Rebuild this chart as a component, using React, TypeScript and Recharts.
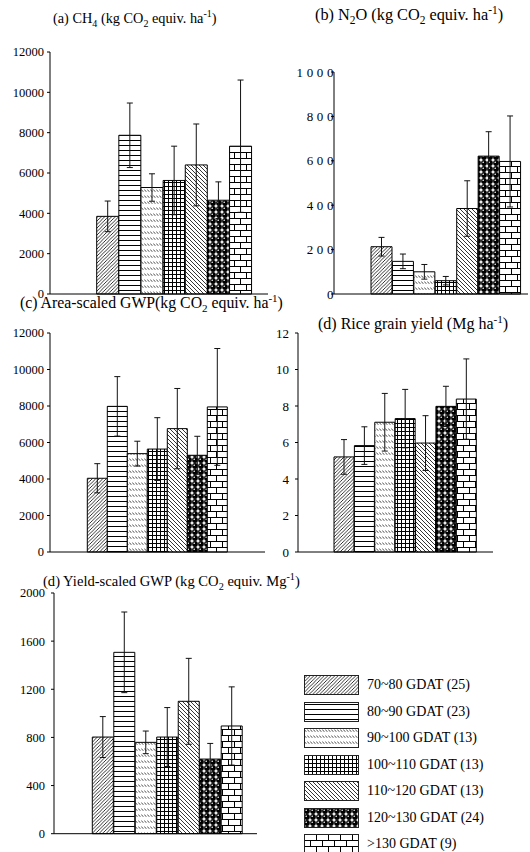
import React from 'react'
import { Bar, BarChart, Cell, ErrorBar, XAxis, YAxis } from 'recharts'

const groups = [
  '70~80 GDAT (25)',
  '80~90 GDAT (23)',
  '90~100 GDAT (13)',
  '100~110 GDAT (13)',
  '110~120 GDAT (13)',
  '120~130 GDAT (24)',
  '>130 GDAT (9)',
]

// (a) CH4
const ch4 = [3850, 7870, 5280, 5630, 6400, 4650, 7330]
const ch4Err = [760, 1600, 680, 1700, 2030, 910, 3280]
// (b) N2O
const n2o = [213, 147, 100, 60, 385, 621, 597]
const n2oErr = [42, 33, 33, 19, 125, 110, 205]
// (c) area-scaled GWP
const gwp = [4040, 7980, 5390, 5640, 6760, 5300, 7950]
const gwpErr = [800, 1630, 680, 1720, 2200, 1040, 3200]
// (d) rice grain yield
const grainYield = [5.21, 5.83, 7.11, 7.31, 5.97, 7.98, 8.38]
const grainYieldErr = [0.95, 1.03, 1.58, 1.6, 1.5, 1.1, 2.2]
// (e) yield-scaled GWP
const yieldGwp = [803, 1507, 759, 803, 1100, 620, 895]
const yieldGwpErr = [170, 335, 94, 245, 357, 130, 325]

const ticksBig = [0, 2000, 4000, 6000, 8000, 10000, 12000]
const ticksN2o = [0, 200, 400, 600, 800, 1000]
const ticksYield = [0, 2, 4, 6, 8, 10, 12]
const ticksYgwp = [0, 400, 800, 1200, 1600, 2000]

const serif = '"Liberation Serif", "Times New Roman", serif'

function Patterns() {
  return (
    <svg width={0} height={0} style={{ position: 'absolute' }}>
      <defs>
        <pattern id="pat0" width={3.5} height={3.5} patternUnits="userSpaceOnUse">
          <rect width={3.5} height={3.5} fill="#fff" />
          <path d="M-1,1 l2,-2 M0,3.5 l3.5,-3.5 M2.5,4.5 l2,-2" stroke="#000" strokeWidth={0.8} />
        </pattern>
        <pattern id="pat1" width={6} height={5} patternUnits="userSpaceOnUse">
          <rect width={6} height={5} fill="#fff" />
          <line x1={0} y1={2.5} x2={6} y2={2.5} stroke="#000" strokeWidth={1} />
        </pattern>
        <pattern id="pat2" width={3} height={6} patternUnits="userSpaceOnUse">
          <rect width={3} height={6} fill="#fff" />
          <path d="M0.3,1.5 L2.3,3.8" stroke="#000" strokeWidth={0.7} />
        </pattern>
        <pattern id="pat3" width={4} height={4} patternUnits="userSpaceOnUse">
          <rect width={4} height={4} fill="#fff" />
          <path d="M0,0.5 H4 M0.5,0 V4" stroke="#000" strokeWidth={1} />
        </pattern>
        <pattern id="pat4" width={4} height={4} patternUnits="userSpaceOnUse">
          <rect width={4} height={4} fill="#fff" />
          <path d="M-1,3 l2,2 M0,0 l4,4 M3,-1 l2,2" stroke="#000" strokeWidth={0.8} />
        </pattern>
        <pattern id="pat5" width={6} height={6} patternUnits="userSpaceOnUse">
          <rect width={6} height={6} fill="#fff" />
          <circle cx={3} cy={3} r={2.9} fill="#000" />
          <circle cx={2.2} cy={2.2} r={0.8} fill="#fff" />
        </pattern>
        <pattern id="pat6" width={12} height={12} patternUnits="userSpaceOnUse">
          <rect width={12} height={12} fill="#fff" />
          <path d="M0,0.5 H12 M0,6.5 H12 M0.5,0 V6 M6.5,6 V12" stroke="#000" strokeWidth={1} />
        </pattern>
      </defs>
    </svg>
  )
}

type PanelProps = {
  values: number[]
  errors: number[]
  left: number
  axisX: number
  axisEnd: number
  plotTop: number
  plotBottom: number
  barStart: number
  barEnd: number
  ticks: number[]
  tickMargin: number
  fontSize?: number
  letterSpacing?: number
}

function makeTick(fontSize: number, letterSpacing: number) {
  return (props: any) => (
    <text
      x={props.x}
      y={props.y}
      dy="0.355em"
      textAnchor="end"
      fill="#000"
      style={{ fontSize, fontFamily: serif, letterSpacing }}
    >
      {props.payload.value}
    </text>
  )
}

function Panel(p: PanelProps) {
  const top = p.plotTop - 14
  const width = p.axisEnd - p.left + 2
  const height = p.plotBottom - top + 1 + 8
  const data = groups.map((g, i) => ({ name: g, v: p.values[i], e: p.errors[i] }))
  return (
    <div style={{ position: 'absolute', left: p.left, top }}>
      <BarChart
        width={width}
        height={height}
        data={data}
        margin={{ top: 14, right: 2, bottom: 8, left: 0 }}
        barCategoryGap={0}
        barGap={0}
      >
        <XAxis
          dataKey="name"
          tick={false}
          tickLine={false}
          height={1}
          axisLine={{ stroke: '#000' }}
          padding={{ left: p.barStart - p.axisX, right: p.axisEnd - p.barEnd }}
        />
        <YAxis
          width={p.axisX - p.left}
          domain={[p.ticks[0], p.ticks[p.ticks.length - 1]]}
          ticks={p.ticks}
          interval={0}
          tickSize={3}
          tickMargin={p.tickMargin}
          axisLine={{ stroke: '#000' }}
          tickLine={{ stroke: '#000' }}
          tick={makeTick(p.fontSize ?? 12.5, p.letterSpacing ?? 0)}
        />
        <Bar dataKey="v" isAnimationActive={false} stroke="#000" strokeWidth={1}>
          {data.map((d, i) => (
            <Cell key={d.name} fill={`url(#pat${i})`} />
          ))}
          <ErrorBar dataKey="e" width={3} stroke="#111" strokeWidth={1} isAnimationActive={false} />
        </Bar>
      </BarChart>
    </div>
  )
}

function Title({ left, cy, size, children }: { left: number; cy: number; size: number; children: React.ReactNode }) {
  return (
    <div
      style={{
        position: 'absolute',
        left,
        top: cy - 10,
        lineHeight: '20px',
        fontSize: size,
        whiteSpace: 'nowrap',
        fontFamily: serif,
      }}
    >
      {children}
    </div>
  )
}

const sub = { fontSize: '0.7em', verticalAlign: 'sub', lineHeight: 0 }
const sup = { fontSize: '0.7em', verticalAlign: 'super', lineHeight: 0 }

function Legend() {
  return (
    <div style={{ position: 'absolute', left: 304, top: 675 }}>
      {groups.map((g, i) => (
        <div key={g} style={{ position: 'absolute', top: i * 26.5, left: 0, height: 19, whiteSpace: 'nowrap' }}>
          <svg width={55} height={20} style={{ position: 'absolute', left: 0, top: 0 }}>
            <rect x={0.5} y={0.5} width={54} height={19} fill={`url(#pat${i})`} stroke="#222" strokeWidth={1} />
          </svg>
          <span
            style={{
              position: 'absolute',
              left: 63,
              top: 1,
              fontSize: 14,
              lineHeight: '18px',
              fontFamily: serif,
            }}
          >
            {g}
          </span>
        </div>
      ))}
    </div>
  )
}

export default function App() {
  return (
    <div
      style={{
        position: 'absolute',
        left: 0,
        top: 0,
        width: 530,
        height: 852,
        background: '#fff',
        overflow: 'hidden',
        fontFamily: serif,
      }}
    >
      <Patterns />
      <Panel values={ch4} errors={ch4Err} left={0} axisX={50} axisEnd={268} plotTop={52} plotBottom={294}
        barStart={96.7} barEnd={251.7} ticks={ticksBig} tickMargin={3} />
      <Panel values={n2o} errors={n2oErr} left={265} axisX={334} axisEnd={528} plotTop={72} plotBottom={294}
        barStart={371} barEnd={521} ticks={ticksN2o} tickMargin={-6} letterSpacing={3.6} fontSize={13} />
      <Panel values={gwp} errors={gwpErr} left={0} axisX={50} axisEnd={265} plotTop={333.3} plotBottom={552.3}
        barStart={87.3} barEnd={227.3} ticks={ticksBig} tickMargin={3} />
      <Panel values={grainYield} errors={grainYieldErr} left={265} axisX={298} axisEnd={493} plotTop={333.3}
        plotBottom={552.3} barStart={334} barEnd={476.7} ticks={ticksYield} tickMargin={6} fontSize={13} />
      <Panel values={yieldGwp} errors={yieldGwpErr} left={0} axisX={54} axisEnd={257} plotTop={593.3} plotBottom={834}
        barStart={92.3} barEnd={242.7} ticks={ticksYgwp} tickMargin={6} />

      <Title left={53} cy={18} size={14.3}>
        (a) CH<span style={sub}>4</span> (kg CO<span style={sub}>2</span> equiv. ha<span style={sup}>-1</span>)
      </Title>
      <Title left={315} cy={15} size={16.3}>
        (b) N<span style={sub}>2</span>O (kg CO<span style={sub}>2</span> equiv. ha<span style={sup}>-1</span>)
      </Title>
      <Title left={20} cy={303} size={15.8}>
        (c) Area-scaled GWP(kg CO<span style={sub}>2</span> equiv. ha<span style={sup}>-1</span>)
      </Title>
      <Title left={318} cy={324} size={16}>
        (d) Rice grain yield (Mg ha<span style={sup}>-1</span>)
      </Title>
      <Title left={43} cy={581} size={14.6}>
        (d) Yield-scaled GWP (kg CO<span style={sub}>2</span> equiv. Mg<span style={sup}>-1</span>)
      </Title>

      <Legend />
    </div>
  )
}
